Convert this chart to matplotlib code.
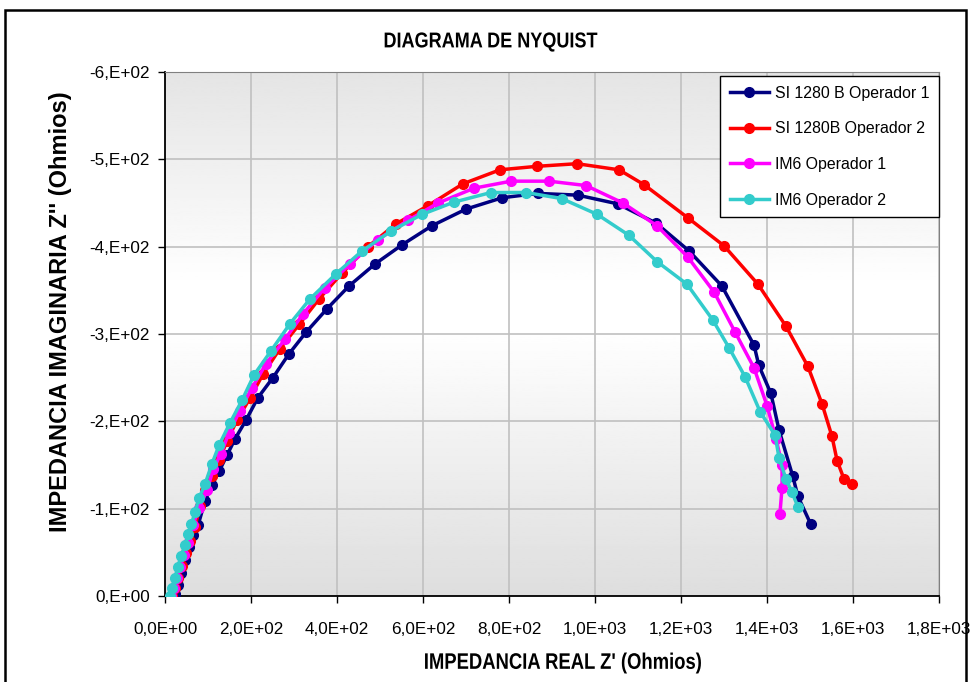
import numpy as np
import matplotlib
matplotlib.use('Agg')
import matplotlib.pyplot as plt
from matplotlib.ticker import FuncFormatter, MultipleLocator
from matplotlib.patches import Rectangle, PathPatch
from matplotlib.textpath import TextPath
from matplotlib.font_manager import FontProperties
from matplotlib.transforms import Affine2D, IdentityTransform

# Impedance data: real part Z' and imaginary part Z'' (Ohmios)
si1280_op1_re = [23, 30, 37, 47, 56, 65, 77, 93, 109, 126, 144, 163, 188, 216, 251, 288,
                 328, 377, 428, 488, 551, 621, 700, 784, 867, 960, 1053, 1142, 1219, 1295,
                 1370, 1381, 1409, 1428, 1460, 1472, 1502]
si1280_op1_im = [-2, -13, -26, -41, -56, -70, -81, -109, -127, -143, -161, -180, -201, -227,
                 -250, -277, -302, -329, -355, -380, -402, -424, -443, -456, -461, -459, -449,
                 -427, -395, -355, -287, -264, -232, -190, -137, -114, -82]

si1280_op2_re = [16, 23, 30, 40, 49, 58, 70, 81, 93, 109, 126, 144, 167, 198, 228, 267, 312,
                 358, 412, 472, 537, 612, 693, 779, 865, 958, 1056, 1114, 1216, 1300, 1379,
                 1444, 1495, 1528, 1551, 1563, 1579, 1598]
si1280_op2_im = [0, -9, -21, -34, -49, -63, -79, -103, -121, -137, -156, -177, -201, -227,
                 -254, -283, -311, -340, -370, -400, -426, -447, -472, -488, -492, -495, -488,
                 -471, -433, -401, -357, -309, -263, -220, -183, -155, -134, -128]

im6_op1_re = [14, 21, 28, 35, 44, 53, 65, 79, 98, 112, 130, 149, 174, 202, 235, 279, 321,
              372, 430, 495, 565, 635, 719, 805, 893, 979, 1065, 1144, 1216, 1277, 1326,
              1370, 1400, 1421, 1435, 1435, 1430]
im6_op1_im = [0, -9, -21, -33, -47, -61, -81, -101, -121, -145, -163, -187, -212, -238, -266,
              -294, -323, -353, -380, -408, -430, -450, -467, -475, -475, -470, -450, -424,
              -388, -348, -302, -261, -218, -180, -150, -124, -94]

im6_op2_re = [12, 16, 23, 30, 37, 47, 54, 61, 70, 79, 93, 109, 126, 151, 179, 207, 247, 291,
              337, 398, 458, 526, 598, 672, 758, 840, 923, 1005, 1079, 1144, 1214, 1274,
              1312, 1349, 1384, 1419, 1428, 1444, 1458, 1472]
im6_op2_im = [0, -9, -21, -33, -46, -58, -71, -82, -96, -112, -128, -151, -173, -198, -224,
              -253, -281, -312, -340, -369, -395, -418, -437, -451, -462, -462, -455, -437,
              -413, -383, -357, -316, -284, -251, -211, -184, -158, -134, -119, -102]

series_names = ['SI 1280 B Operador 1', 'SI 1280B Operador 2', 'IM6 Operador 1', 'IM6 Operador 2']
series_colors = ['#000080', '#FF0000', '#FF00FF', '#33CCCC']

font = ['Liberation Sans', 'DejaVu Sans']
W, H = 972, 682


def excel_sci(val, mant_fmt):
    # Excel style scientific label with comma decimal, e.g. -6,E+02 or 1,0E+03
    if val == 0:
        exp = 0
        mant = 0.0
    else:
        exp = int(np.floor(np.log10(abs(val)) + 1e-9))
        mant = val / 10 ** exp
    m = mant_fmt.format(mant).replace('.', ',')
    if ',' not in m:
        m = m + ','
    return '{}E{}{:02d}'.format(m, '+' if exp >= 0 else '-', abs(exp))


def narrow_text(fig, cx, cy, s, size_px, sx=0.82, weight='bold'):
    # Draws horizontally squeezed text centred on pixel (cx, cy), y from top
    prop = FontProperties(family=font, weight=weight)
    tp = TextPath((0, 0), s, size=size_px, prop=prop)
    ext = tp.get_extents()
    tr = (Affine2D().translate(-(ext.x0 + ext.x1) / 2, -(ext.y0 + ext.y1) / 2)
          .scale(sx, 1).translate(cx, H - cy))
    fig.patches.append(PathPatch(tr.transform_path(tp), color='black', lw=0,
                                 transform=IdentityTransform()))


fig = plt.figure(figsize=(W / 100, H / 100), dpi=100)
ax = fig.add_axes([165 / W, 1 - 596 / H, 774 / W, 524 / H])

# Gray-white-gray gradient behind the plot area
t = np.linspace(-1, 1, 256)
grad = 0.86 + 0.14 * (1 - np.abs(t + 0.1) / 1.1)
grad = np.clip(grad + 0.01, 0, 1)
ax.imshow(grad[:, None], extent=[0, 1, 0, 1], transform=ax.transAxes, aspect='auto',
          cmap='gray', vmin=0, vmax=1, zorder=0)

xs = [si1280_op1_re, si1280_op2_re, im6_op1_re, im6_op2_re]
ys = [si1280_op1_im, si1280_op2_im, im6_op1_im, im6_op2_im]
for x, y, name, col in zip(xs, ys, series_names, series_colors):
    ax.plot(x, y, '-o', color=col, lw=2.5, ms=7, label=name, zorder=3,
            solid_joinstyle='round')

ax.set_xlim(0, 1800)
ax.set_ylim(0, -600)
ax.xaxis.set_major_locator(MultipleLocator(200))
ax.yaxis.set_major_locator(MultipleLocator(100))
ax.xaxis.set_major_formatter(FuncFormatter(lambda v, p: excel_sci(v, '{:.1f}')))
ax.yaxis.set_major_formatter(FuncFormatter(lambda v, p: excel_sci(v, '{:.0f}')))
ax.grid(True, color='#c0c0c0', lw=1.2, zorder=1)
ax.set_axisbelow(True)

ax.tick_params(direction='out', length=5, width=1, color='black', pad=6)
for lab in ax.get_xticklabels() + ax.get_yticklabels():
    lab.set_family(font)
    lab.set_fontsize(12.3)
ax.tick_params(axis='x', pad=14)

for side in ['top', 'right']:
    ax.spines[side].set_color('#808080')
for side in ['left', 'bottom']:
    ax.spines[side].set_color('black')
    ax.spines[side].set_linewidth(1.3)

# Titles
narrow_text(fig, 491, 42, 'DIAGRAMA DE NYQUIST', 21.5, sx=0.84)
narrow_text(fig, 563, 663, "IMPEDANCIA REAL Z' (Ohmios)", 22.5, sx=0.82)
fig.text(61 / W, 1 - 312 / H, "IMPEDANCIA IMAGINARIA Z'' (Ohmios)", ha='center',
         va='center', rotation=90, fontsize=17, fontweight='bold', family=font)

leg = ax.legend(loc='upper right', bbox_to_anchor=(1.0, 1 - 4 / 524), borderaxespad=0,
                frameon=True, fancybox=False, edgecolor='black', framealpha=1,
                borderpad=0.62, labelspacing=1.3, handlelength=2.5, handletextpad=0.35,
                prop={'family': font, 'size': 11.4})
leg.get_frame().set_linewidth(1.0)

# Outer chart border
fig.patches.append(Rectangle((5 / W, -0.05), 961 / W, 1.05 - 10 / H, fill=False,
                             edgecolor='black', lw=1.8, transform=fig.transFigure))

fig.savefig('out.png', dpi=100)
